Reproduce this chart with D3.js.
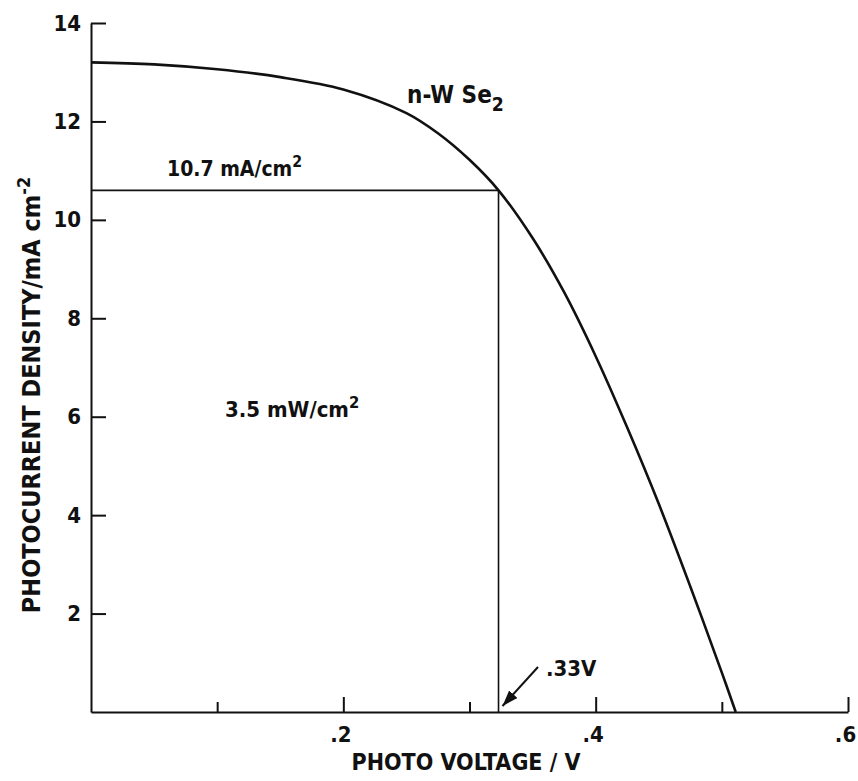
<!DOCTYPE html>
<html>
<head>
<meta charset="utf-8">
<script src="https://cdn.jsdelivr.net/npm/d3@7"></script>
<style>
  body { margin: 0; background: #fff; }
  text { font-family: "Liberation Sans Narrow", "DejaVu Sans Condensed", "Liberation Sans", sans-serif; font-weight: bold; fill: #111; }
</style>
</head>
<body>
<div id="chart"></div>
<script>
var width = 858, height = 781;

// J-V curve of n-WSe2 (V in volts, J in mA/cm2)
var voltage = [0, 0.05, 0.10, 0.15, 0.20, 0.25, 0.275, 0.30, 0.323, 0.35, 0.375, 0.40, 0.425, 0.45, 0.475, 0.50, 0.511];
var current = [13.2, 13.16, 13.06, 12.9, 12.65, 12.17, 11.76, 11.22, 10.6, 9.63, 8.53, 7.23, 5.78, 4.23, 2.55, 0.8, 0];

// maximum power point
var vMax = 0.323, jMax = 10.6;

var xTicks = [0.1, 0.2, 0.3, 0.4, 0.5, 0.6];
var xLabels = [0.2, 0.4, 0.6];
var yTicks = [2, 4, 6, 8, 10, 12, 14];

var x = d3.scaleLinear().domain([0, 0.6]).range([91, 848]);
var y = d3.scaleLinear().domain([0, 14]).range([712, 23]);

var svg = d3.select("#chart").append("svg")
  .attr("width", width)
  .attr("height", height);

// y axis, ticks pointing inward
var yAxis = d3.axisLeft(y)
  .tickValues(yTicks)
  .tickSizeInner(-15)
  .tickSizeOuter(0)
  .tickPadding(10)
  .tickFormat(d3.format("d"));

var gy = svg.append("g")
  .attr("transform", "translate(" + x(0) + ",0)")
  .call(yAxis);
gy.select(".domain").attr("stroke", "#111").attr("stroke-width", 2);
gy.selectAll(".tick line").attr("stroke", "#111").attr("stroke-width", 2);
gy.selectAll(".tick text")
  .attr("font-size", 22)
  .attr("font-family", null)
  .attr("x", -10);

// x axis, ticks pointing up, long ones at labelled values
var xAxis = d3.axisBottom(x)
  .tickValues(xTicks)
  .tickSizeInner(-15)
  .tickSizeOuter(0)
  .tickPadding(14)
  .tickFormat(function(d) {
    return xLabels.indexOf(d) >= 0 ? d3.format(".1f")(d).replace("0.", ".") : "";
  });

var gx = svg.append("g")
  .attr("transform", "translate(0," + y(0) + ")")
  .call(xAxis);
gx.select(".domain").attr("stroke", "#111").attr("stroke-width", 2);
gx.selectAll(".tick line")
  .attr("stroke", "#111")
  .attr("stroke-width", 2)
  .attr("y2", function(d) { return xLabels.indexOf(d) >= 0 ? -15 : -10; });
gx.selectAll(".tick text")
  .attr("font-size", 22)
  .attr("font-family", null)
  .attr("dx", -3);

// max power rectangle
svg.append("line")
  .attr("x1", x(0)).attr("x2", x(vMax))
  .attr("y1", y(jMax)).attr("y2", y(jMax))
  .attr("stroke", "#111").attr("stroke-width", 1.6);
svg.append("line")
  .attr("x1", x(vMax)).attr("x2", x(vMax))
  .attr("y1", y(jMax)).attr("y2", y(0))
  .attr("stroke", "#111").attr("stroke-width", 1.6);

// the curve
var pts = voltage.map(function(v, i) { return [v, current[i]]; });
var line = d3.line()
  .x(function(d) { return x(d[0]); })
  .y(function(d) { return y(d[1]); })
  .curve(d3.curveCatmullRom.alpha(0.5));

svg.append("path")
  .datum(pts)
  .attr("d", line)
  .attr("fill", "none")
  .attr("stroke", "#111")
  .attr("stroke-width", 2.6);

// arrow to .33V
svg.append("defs").append("marker")
  .attr("id", "head")
  .attr("viewBox", "0 0 10 10")
  .attr("refX", 10).attr("refY", 5)
  .attr("markerWidth", 16).attr("markerHeight", 16)
  .attr("markerUnits", "userSpaceOnUse")
  .attr("orient", "auto")
  .append("path")
  .attr("d", "M0,1.5 L10,5 L0,8.5 Z")
  .attr("fill", "#111");

svg.append("line")
  .attr("x1", 538).attr("y1", 667)
  .attr("x2", x(vMax) + 4).attr("y2", y(0) - 6)
  .attr("stroke", "#111").attr("stroke-width", 2)
  .attr("marker-end", "url(#head)");

// annotations
var label = function(tx, ty, parts, size) {
  var t = svg.append("text").attr("x", tx).attr("y", ty).attr("font-size", size);
  parts.forEach(function(p) {
    var s = t.append("tspan").text(p[0]);
    if (p[1] === "sup") s.attr("dy", -9).attr("font-size", size * 0.75);
    if (p[1] === "sub") s.attr("dy", 8).attr("font-size", size * 0.8);
  });
  return t;
};

label(407, 103, [["n-W Se"], ["2", "sub"]], 24);
label(167, 176, [["10.7 mA/cm"], ["2", "sup"]], 21);
label(225, 417, [["3.5 mW/cm"], ["2", "sup"]], 22);
svg.append("text").attr("x", 546).attr("y", 676).attr("font-size", 22).text(".33V");

// axis titles
svg.append("text")
  .attr("x", 466).attr("y", 770)
  .attr("text-anchor", "middle")
  .attr("font-size", 23)
  .text("PHOTO VOLTAGE / V");

var yt = svg.append("text")
  .attr("transform", "translate(40,395) rotate(-90)")
  .attr("text-anchor", "middle")
  .attr("font-size", 25);
yt.append("tspan").text("PHOTOCURRENT DENSITY/mA cm");
yt.append("tspan").attr("dy", -10).attr("font-size", 18).text("-2");
</script>
</body>
</html>
